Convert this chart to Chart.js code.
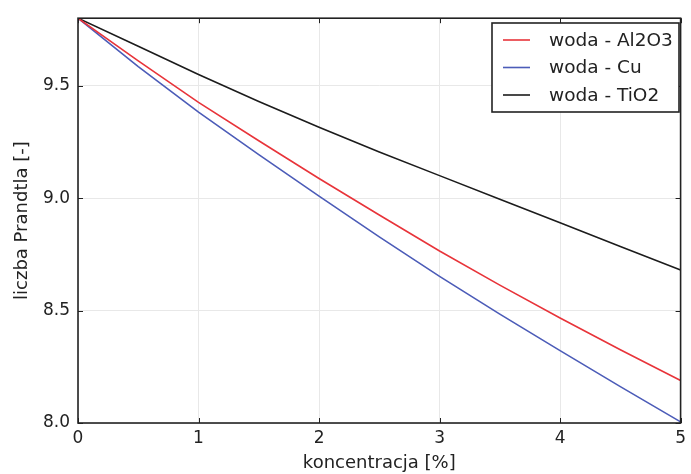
<!DOCTYPE html>
<html lang="pl">
<head>
<meta charset="utf-8">
<title>liczba Prandtla</title>
<script src="https://cdn.jsdelivr.net/npm/chart.js@4/dist/chart.umd.min.js"></script>
<style>
  html, body { margin: 0; padding: 0; background: #fff; }
  #wrap { width: 691px; height: 474px; }
</style>
</head>
<body>
<div id="wrap"><canvas id="prChart" width="691" height="474"></canvas></div>
<script>
// concentration of nanoparticles [%]
const concentration = [0, 0.5, 1, 1.5, 2, 2.5, 3, 3.5, 4, 4.5, 5];
// Prandtl number for each nanofluid
const prAl2O3 = [9.80, 9.61, 9.426, 9.255, 9.087, 8.925, 8.765, 8.613, 8.467, 8.326, 8.189];
const prCu    = [9.80, 9.585, 9.382, 9.193, 9.009, 8.828, 8.652, 8.484, 8.322, 8.162, 8.005];
const prTiO2  = [9.80, 9.675, 9.55, 9.43, 9.315, 9.205, 9.10, 8.995, 8.89, 8.785, 8.68];

const seriesLabels = ["woda - Al2O3", "woda - Cu", "woda - TiO2"];
const xTicks = [0, 1, 2, 3, 4, 5];
const yTicks = [8.0, 8.5, 9.0, 9.5];

const FONT = "'DejaVu Sans', sans-serif";
const INK = "#222";

function toPoints(ys) {
  return concentration.map((x, i) => ({ x: x, y: ys[i] }));
}

// frame around the plot with short inward ticks on every side
const framePlugin = {
  id: "frame",
  afterDatasetsDraw(chart) {
    const { ctx, chartArea: a, scales } = chart;
    ctx.save();
    ctx.strokeStyle = INK;
    ctx.lineWidth = 1;
    const len = 5;
    ctx.beginPath();
    xTicks.forEach(v => {
      const px = Math.round(scales.x.getPixelForValue(v)) + 0.5;
      ctx.moveTo(px, a.bottom); ctx.lineTo(px, a.bottom - len);
      ctx.moveTo(px, a.top); ctx.lineTo(px, a.top + len);
    });
    yTicks.forEach(v => {
      const py = Math.round(scales.y.getPixelForValue(v)) + 0.5;
      ctx.moveTo(a.left, py); ctx.lineTo(a.left + len, py);
      ctx.moveTo(a.right, py); ctx.lineTo(a.right - len, py);
    });
    ctx.stroke();
    ctx.lineWidth = 1.6;
    ctx.strokeRect(a.left, a.top, a.right - a.left, a.bottom - a.top);
    ctx.restore();
  }
};

// boxed legend in the upper right corner of the plot
const legendBox = {
  id: "legendBox",
  afterDraw(chart) {
    const { ctx } = chart;
    const x0 = 492, y0 = 23, w = 187, h = 89;
    ctx.save();
    ctx.fillStyle = "#fff";
    ctx.fillRect(x0, y0, w, h);
    ctx.strokeStyle = INK;
    ctx.lineWidth = 1.6;
    ctx.strokeRect(x0, y0, w, h);
    ctx.font = "18.5px " + FONT;
    ctx.textBaseline = "middle";
    chart.data.datasets.forEach((ds, i) => {
      const y = y0 + 17 + i * 27.5;
      ctx.strokeStyle = ds.borderColor;
      ctx.lineWidth = ds.borderWidth;
      ctx.beginPath();
      ctx.moveTo(x0 + 11, y);
      ctx.lineTo(x0 + 38, y);
      ctx.stroke();
      ctx.fillStyle = INK;
      ctx.fillText(ds.label, x0 + 57, y + 1);
    });
    ctx.restore();
  }
};

const ctx = document.getElementById("prChart");
new Chart(ctx, {
  type: "line",
  data: {
    datasets: [
      { label: seriesLabels[0], data: toPoints(prAl2O3), borderColor: "#e8343a", borderWidth: 1.6 },
      { label: seriesLabels[1], data: toPoints(prCu), borderColor: "#4c5cb8", borderWidth: 1.6 },
      { label: seriesLabels[2], data: toPoints(prTiO2), borderColor: "#1c1c1c", borderWidth: 1.6 }
    ]
  },
  options: {
    responsive: false,
    animation: false,
    layout: { padding: { top: 15, right: 4, left: 0, bottom: 0 } },
    elements: { point: { radius: 0 }, line: { tension: 0 } },
    plugins: { legend: { display: false }, tooltip: { enabled: false } },
    scales: {
      x: {
        type: "linear",
        min: 0,
        max: 5,
        afterBuildTicks(scale) { scale.ticks = xTicks.map(v => ({ value: v })); },
        afterFit(scale) { scale.height = 51; },
        grid: { color: "#e8e8e8", drawTicks: false },
        border: { display: false },
        ticks: { color: INK, padding: 5, font: { family: FONT, size: 17 } },
        title: {
          display: true,
          text: "koncentracja [%]",
          color: INK,
          font: { family: FONT, size: 18 },
          padding: { top: 0, bottom: 0 }
        }
      },
      y: {
        type: "linear",
        min: 8.0,
        max: 9.8,
        afterBuildTicks(scale) { scale.ticks = yTicks.map(v => ({ value: v })); },
        afterFit(scale) { scale.width = 78; },
        grid: { color: "#e8e8e8", drawTicks: false },
        border: { display: false },
        ticks: {
          color: INK,
          padding: 8,
          font: { family: FONT, size: 17 },
          callback: v => Number(v).toFixed(1)
        },
        title: {
          display: true,
          text: "liczba Prandtla [-]",
          color: INK,
          font: { family: FONT, size: 18 },
          padding: { top: 12, bottom: 0 }
        }
      }
    }
  },
  plugins: [framePlugin, legendBox]
});
</script>
</body>
</html>
